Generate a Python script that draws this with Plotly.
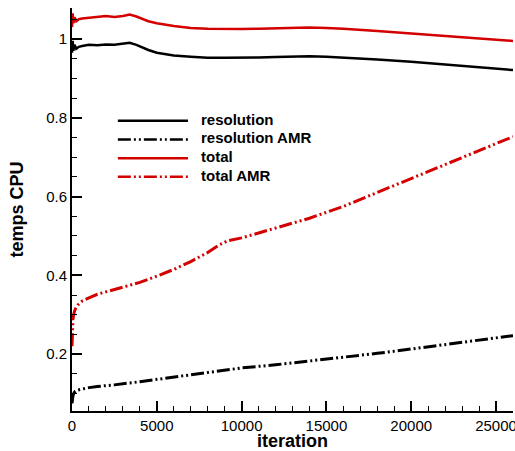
import plotly.graph_objects as go

# ---------------- data ----------------
it_res = [0, 40, 80, 150, 250, 400, 600, 1000, 1500, 2000, 2500, 3000, 3400, 3800,
          4500, 5000, 6000, 7000, 8000, 9000, 10000, 11000, 12000, 13000, 14000,
          15000, 16000, 18000, 20000, 22000, 24000, 26000]
resolution = [0.965, 0.995, 0.97, 0.985, 0.975, 0.98, 0.982, 0.985, 0.984, 0.986,
              0.985, 0.987, 0.99, 0.985, 0.972, 0.965, 0.958, 0.955, 0.952, 0.952,
              0.952, 0.953, 0.954, 0.955, 0.956, 0.955, 0.953, 0.948, 0.942, 0.935,
              0.928, 0.921]
total = [1.03, 1.065, 1.04, 1.055, 1.045, 1.05, 1.052, 1.054, 1.056, 1.058, 1.056,
         1.058, 1.062, 1.057, 1.045, 1.04, 1.033, 1.028, 1.026, 1.025, 1.025, 1.026,
         1.027, 1.028, 1.029, 1.028, 1.026, 1.02, 1.014, 1.008, 1.002, 0.995]

it_tamr = [0, 20, 60, 120, 200, 350, 600, 1000, 1500, 2000, 3000, 4000, 5000, 6000,
           7000, 8000, 8700, 9200, 10000, 12000, 14000, 16000, 18000, 20000, 22000,
           24000, 26000]
total_amr = [0.22, 0.26, 0.29, 0.305, 0.315, 0.325, 0.335, 0.343, 0.352, 0.358, 0.37,
             0.382, 0.398, 0.415, 0.435, 0.458, 0.478, 0.488, 0.495, 0.52, 0.545,
             0.575, 0.61, 0.645, 0.68, 0.715, 0.752]

it_ramr = [0, 20, 60, 120, 200, 350, 600, 1000, 1500, 2500, 4000, 5000, 7000, 9000,
           10000, 12000, 15000, 18000, 20000, 23000, 26000]
resolution_amr = [0.075, 0.085, 0.095, 0.102, 0.106, 0.109, 0.112, 0.115, 0.118,
                  0.122, 0.13, 0.136, 0.148, 0.16, 0.165, 0.173, 0.187, 0.202, 0.213,
                  0.23, 0.247]

legend_labels = ["resolution", "resolution AMR", "total", "total AMR"]
x_ticks = [0, 5000, 10000, 15000, 20000, 25000]
y_ticks = [0.2, 0.4, 0.6, 0.8, 1.0]

BLACK = "#000000"
RED = "#d40000"
DASHDOT = "13px,3px,2px,3px,2px,3px"
FONT = "Liberation Sans, Arial, sans-serif"

fig = go.Figure()
series = [
    (it_res, resolution, BLACK, "solid", 2.5),
    (it_ramr, resolution_amr, BLACK, DASHDOT, 3),
    (it_res, total, RED, "solid", 2.5),
    (it_tamr, total_amr, RED, DASHDOT, 3),
]
for (xs, ys, col, dash, w), name in zip(series, legend_labels):
    fig.add_trace(go.Scatter(x=xs, y=ys, mode="lines", name=name,
                             line=dict(color=col, width=w, dash=dash),
                             showlegend=False))

# manual legend (long line samples as in reference)
leg_y = [0.720, 0.674, 0.627, 0.581]
for (xs, ys, col, dash, w), name, yy in zip(series, legend_labels, leg_y):
    fig.add_shape(type="line", xref="paper", yref="paper", x0=0.104, x1=0.263,
                  y0=yy, y1=yy, line=dict(color=col, width=2.5, dash=dash))
    fig.add_annotation(xref="paper", yref="paper", x=0.288, y=yy + 0.004,
                       text="<b>%s</b>" % name,
                       showarrow=False, xanchor="left", yanchor="middle",
                       font=dict(size=15, color="black", family=FONT))

fig.update_layout(
    width=515, height=451,
    margin=dict(l=72, r=2, t=8, b=40, autoexpand=False),
    plot_bgcolor="white", paper_bgcolor="white",
    font=dict(family=FONT, size=15, color="black"),
)
fig.update_xaxes(range=[0, 26000], tickvals=x_ticks, ticktext=[str(v) for v in x_ticks],
                 ticks="inside", ticklen=10, tickwidth=2, tickcolor="black",
                 showline=True, linecolor="black", linewidth=2, showgrid=False,
                 zeroline=False, automargin=False, ticklabeloverflow="allow",
                 minor=dict(ticks="inside", ticklen=5, tickwidth=1,
                            dtick=1000, tick0=0, tickcolor="black"),
                 title=dict(text="<b>iteration</b>", font=dict(size=18), standoff=0))
fig.update_yaxes(range=[0.0557, 1.0785], tickvals=y_ticks,
                 ticktext=["0.2", "0.4", "0.6", "0.8", "1"],
                 ticks="inside", ticklen=10, tickwidth=2, tickcolor="black",
                 showline=True, linecolor="black", linewidth=2, showgrid=False,
                 zeroline=False, automargin=False, ticklabeloverflow="allow",
                 minor=dict(ticks="inside", ticklen=5, tickwidth=1,
                            dtick=0.05, tick0=0, tickcolor="black"),
                 title=dict(text="<b>temps CPU</b>", font=dict(size=18), standoff=18))

fig.write_html("out.html", config={"displayModeBar": False},
               post_script="document.body.style.margin='0';document.body.style.overflow='hidden';")
